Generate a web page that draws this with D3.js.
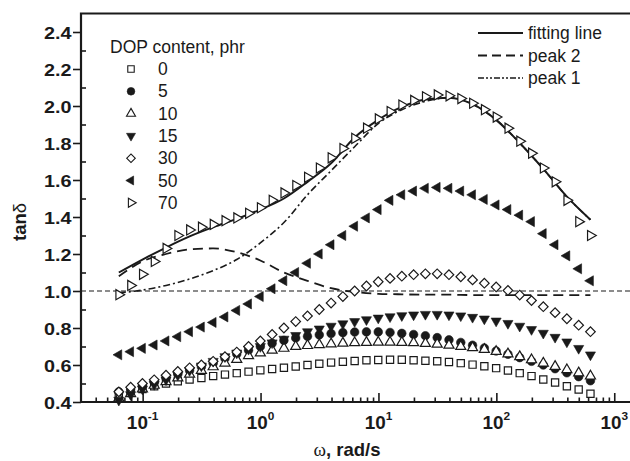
<!DOCTYPE html>
<html>
<head>
<meta charset="utf-8">
<script src="https://cdn.jsdelivr.net/npm/d3@7"></script>
<style>
  body { margin: 0; background: #fff; }
  svg { display: block; }
</style>
</head>
<body>
<div id="chart"></div>
<script>
// Angular frequency (rad/s) of every measured point
const omega = [0.0628, 0.0791, 0.0996, 0.1253, 0.1578, 0.1987, 0.2501, 0.3149, 0.3964, 0.4991,
    0.6283, 0.791, 0.9958, 1.2536, 1.5783, 1.9869, 2.5014, 3.1491, 3.9645, 4.991,
    6.2832, 7.91, 9.958, 12.54, 15.78, 19.87, 25.01, 31.49, 39.64, 49.91,
    62.83, 79.1, 99.58, 125.4, 157.8, 198.7, 250.1, 314.9, 396.4, 499.1, 628.3];

// tan(delta) for each DOP content (phr)
const tan0 = [0.43, 0.45, 0.47, 0.485, 0.5, 0.512, 0.522, 0.53, 0.54, 0.548,
    0.556, 0.564, 0.571, 0.578, 0.585, 0.592, 0.6, 0.607, 0.613, 0.618,
    0.622, 0.626, 0.627, 0.628, 0.628, 0.626, 0.623, 0.62, 0.616, 0.61,
    0.602, 0.593, 0.583, 0.57, 0.556, 0.54, 0.522, 0.505, 0.485, 0.468, 0.445];
const tan5 = [0.455, 0.47, 0.49, 0.51, 0.53, 0.55, 0.57, 0.59, 0.61, 0.635,
    0.66, 0.68, 0.7, 0.717, 0.733, 0.746, 0.755, 0.763, 0.77, 0.775,
    0.778, 0.779, 0.779, 0.776, 0.771, 0.765, 0.758, 0.748, 0.736, 0.722,
    0.707, 0.692, 0.676, 0.658, 0.64, 0.62, 0.6, 0.58, 0.558, 0.537, 0.515];
const tan10 = [0.42, 0.445, 0.47, 0.49, 0.51, 0.53, 0.55, 0.57, 0.59, 0.61,
    0.63, 0.65, 0.665, 0.68, 0.69, 0.7, 0.705, 0.71, 0.714, 0.718,
    0.72, 0.722, 0.723, 0.723, 0.722, 0.72, 0.716, 0.712, 0.707, 0.7,
    0.693, 0.684, 0.673, 0.66, 0.645, 0.628, 0.61, 0.592, 0.574, 0.557, 0.54];
const tan15 = [0.41, 0.44, 0.47, 0.495, 0.52, 0.545, 0.57, 0.595, 0.62, 0.645,
    0.665, 0.685, 0.7, 0.72, 0.74, 0.76, 0.78, 0.795, 0.81, 0.823,
    0.835, 0.845, 0.854, 0.861, 0.867, 0.871, 0.874, 0.874, 0.871, 0.866,
    0.858, 0.849, 0.838, 0.825, 0.81, 0.792, 0.772, 0.75, 0.725, 0.69, 0.655];
const tan30 = [0.455, 0.48, 0.5, 0.52, 0.545, 0.565, 0.585, 0.6, 0.62, 0.645,
    0.67, 0.7, 0.73, 0.765, 0.8, 0.835, 0.865, 0.9, 0.935, 0.97,
    1.0, 1.027, 1.05, 1.068, 1.08, 1.088, 1.093, 1.093, 1.088, 1.077,
    1.06, 1.042, 1.022, 1.003, 0.978, 0.948, 0.915, 0.883, 0.85, 0.815, 0.78];
const tan50 = [0.655, 0.672, 0.69, 0.708, 0.73, 0.753, 0.78, 0.805, 0.83, 0.86,
    0.895, 0.93, 0.97, 1.012, 1.056, 1.1, 1.15, 1.2, 1.25, 1.3,
    1.35, 1.395, 1.44, 1.49, 1.52, 1.54, 1.555, 1.56, 1.555, 1.54,
    1.52, 1.495, 1.465, 1.44, 1.41, 1.375, 1.31, 1.25, 1.19, 1.12, 1.055];
const tan70 = [0.98, 1.03, 1.09, 1.16, 1.23, 1.3, 1.33, 1.345, 1.36, 1.38,
    1.395, 1.42, 1.45, 1.49, 1.53, 1.57, 1.615, 1.665, 1.72, 1.77,
    1.825, 1.88, 1.93, 1.97, 2.005, 2.03, 2.05, 2.06, 2.055, 2.04,
    2.015, 1.98, 1.94, 1.88, 1.81, 1.745, 1.665, 1.59, 1.49, 1.375, 1.3];

// Fitted curves for the 70 phr sample
const curveOmega = [0.0628, 0.0996, 0.1578, 0.2501, 0.3964, 0.6283, 0.9958, 1.5783, 2.5014, 3.9645,
    6.2832, 9.958, 15.78, 25.01, 39.64, 62.83, 99.58, 157.8, 250.1, 396.4, 628.3];
const fitLine = [1.1, 1.17, 1.235, 1.295, 1.345, 1.39, 1.44, 1.5, 1.59, 1.69,
    1.83, 1.925, 1.995, 2.035, 2.045, 2.01, 1.925, 1.8, 1.66, 1.51, 1.385];
const peak1 = [0.99, 1.005, 1.03, 1.065, 1.11, 1.17, 1.26, 1.37, 1.52, 1.65,
    1.78, 1.905, 1.98, 2.025, 2.045, 2.01, 1.925, 1.8, 1.66, 1.51, 1.385];
const peak2 = [1.08, 1.16, 1.2, 1.225, 1.23, 1.21, 1.165, 1.1, 1.055, 1.015,
    0.995, 0.985, 0.982, 0.98, 0.98, 0.978, 0.978, 0.978, 0.978, 0.978, 0.978];

const contentLabels = ["0", "5", "10", "15", "30", "50", "70"];
const curveLabels = ["fitting line", "peak 2", "peak 1"];
const yTicks = [0.4, 0.6, 0.8, 1.0, 1.2, 1.4, 1.6, 1.8, 2.0, 2.2, 2.4];
const yMinorTicks = [0.5, 0.7, 0.9, 1.1, 1.3, 1.5, 1.7, 1.9, 2.1, 2.3];
const xTickExps = [-1, 0, 1, 2, 3];

/* Set up container */
const W = 630, H = 461;
const ink = "#1a1a1a";
const svg = d3.select("#chart").append("svg")
    .attr("width", W).attr("height", H)
    .attr("viewBox", `0 0 ${W} ${H}`);

const x = d3.scaleLog().domain([0.03, 1360]).range([81, 630]);
const y = d3.scaleLinear().domain([0.4, 2.5]).range([402, 13.5]);

const tickFont = "'Liberation Sans', Arial, sans-serif";

/* Reference line at tan(delta) = 1 */
svg.append("line")
    .attr("x1", x.range()[0]).attr("x2", x.range()[1])
    .attr("y1", y(1)).attr("y2", y(1))
    .attr("stroke", ink).attr("stroke-width", 1.2)
    .attr("stroke-dasharray", "5,3");

/* Fitted curves */
const line = d3.line()
    .x(d => x(d[0]))
    .y(d => y(d[1]))
    .curve(d3.curveMonotoneX);

const curveStyles = [
    { data: fitLine, dash: null, width: 2 },
    { data: peak2, dash: "10,6", width: 1.8 },
    { data: peak1, dash: "7,3,2,3", width: 1.6 }
];
curveStyles.forEach(c => {
    svg.append("path")
        .datum(curveOmega.map((w, i) => [w, c.data[i]]))
        .attr("d", line)
        .attr("fill", "none")
        .attr("stroke", ink)
        .attr("stroke-width", c.width)
        .attr("stroke-dasharray", c.dash);
});

/* Markers */
const markerStyles = [
    { type: d3.symbolSquare, size: 52, rot: 0, filled: false },
    { type: d3.symbolCircle, size: 58, rot: 0, filled: true },
    { type: d3.symbolTriangle, size: 44, rot: 0, filled: false },
    { type: d3.symbolTriangle, size: 44, rot: 180, filled: true },
    { type: d3.symbolSquare, size: 46, rot: 45, filled: false },
    { type: d3.symbolTriangle, size: 44, rot: -90, filled: true },
    { type: d3.symbolTriangle, size: 44, rot: 90, filled: false }
];
const allSeries = [tan0, tan5, tan10, tan15, tan30, tan50, tan70];

allSeries.forEach((s, i) => {
    let m = markerStyles[i];
    svg.append("g").selectAll("path")
        .data(omega.map((w, j) => [w, s[j]]))
        .enter()
        .append("path")
        .attr("d", d3.symbol().type(m.type).size(m.size))
        .attr("transform", d => `translate(${x(d[0])},${y(d[1])}) rotate(${m.rot})`)
        .attr("fill", m.filled ? ink : "#fff")
        .attr("stroke", ink)
        .attr("stroke-width", m.filled ? 0.6 : 1.2);
});

/* Axes */
// y: major ticks outward, minor ticks inward
const yAxisMajor = svg.append("g")
    .attr("transform", `translate(${x.range()[0]},0)`)
    .call(d3.axisLeft(y).tickValues(yTicks).tickSize(8).tickFormat(d3.format(".1f")));
yAxisMajor.selectAll("text")
    .attr("x", null).attr("dy", null)
    .attr("transform", "translate(-9.5,6) scale(1.2,1)")
    .attr("font-family", tickFont).attr("font-weight", "bold")
    .attr("font-size", "16.5px").attr("fill", ink);
svg.append("g")
    .attr("transform", `translate(${x.range()[0]},0)`)
    .call(d3.axisRight(y).tickValues(yMinorTicks).tickSize(5).tickFormat(""));

// x: all ticks point into the plot
const xMajor = xTickExps.map(e => Math.pow(10, e));
const xMinor = [];
[-2, -1, 0, 1, 2].forEach(e => {
    for (let k = 2; k <= 9; k++) {
        let v = k * Math.pow(10, e);
        if (v > x.domain()[0] && v < x.domain()[1]) xMinor.push(v);
    }
});
svg.append("g")
    .attr("transform", `translate(0,${y.range()[0]})`)
    .call(d3.axisBottom(x).tickValues(xMajor).tickSize(-9).tickFormat(""));
svg.append("g")
    .attr("transform", `translate(0,${y.range()[0]})`)
    .call(d3.axisBottom(x).tickValues(xMinor).tickSize(-4.5).tickFormat(""));

svg.selectAll(".domain").remove();
svg.selectAll(".tick line").attr("stroke", ink).attr("stroke-width", 1.6);

// x tick labels as 10 with a superscript exponent
xTickExps.forEach(e => {
    let t = svg.append("text")
        .attr("transform", `translate(${x(Math.pow(10, e))},428.5) scale(1.08,1)`)
        .attr("text-anchor", "middle")
        .attr("font-family", tickFont).attr("font-weight", "bold")
        .attr("fill", ink);
    t.append("tspan").attr("font-size", "17.5px").text("10");
    t.append("tspan").attr("font-size", "11px").attr("dy", -9).text(e);
});

// Frame lines
svg.append("path")
    .attr("d", `M${x.range()[1]},${y.range()[1]}H${x.range()[0]}V${y.range()[0]}H${x.range()[1]}`)
    .attr("fill", "none").attr("stroke", ink).attr("stroke-width", 2.2);

/* Axis titles */
const xTitle = svg.append("text")
    .attr("transform", "translate(347,456)")
    .attr("text-anchor", "middle")
    .attr("font-family", tickFont).attr("font-weight", "bold")
    .attr("font-size", "18.5px").attr("fill", ink);
xTitle.append("tspan").attr("font-family", "'Liberation Serif', serif")
    .attr("font-weight", "normal").attr("font-size", "19px").text("ω");
xTitle.append("tspan").text(", rad/s");

const yTitle = svg.append("text")
    .attr("transform", "translate(26,222) rotate(-90)")
    .attr("text-anchor", "middle")
    .attr("font-family", tickFont).attr("font-weight", "bold")
    .attr("font-size", "18.5px").attr("fill", ink);
yTitle.append("tspan").text("tan");
yTitle.append("tspan").attr("font-weight", "normal").text("δ");

/* Legend for samples */
const legendFont = "17.5px";
svg.append("text")
    .attr("x", 110).attr("y", 52.5)
    .attr("font-family", tickFont).attr("font-size", legendFont)
    .attr("fill", ink)
    .text("DOP content, phr");

const legend = svg.selectAll(".contentLegend")
    .data(contentLabels)
    .enter()
    .append("g")
    .attr("class", "contentLegend")
    .attr("transform", (d, i) => `translate(131,${69 + i * 22.3})`);

legend.append("path")
    .attr("d", (d, i) => d3.symbol().type(markerStyles[i].type).size(markerStyles[i].size * 0.8)())
    .attr("transform", (d, i) => `rotate(${markerStyles[i].rot})`)
    .attr("fill", (d, i) => markerStyles[i].filled ? ink : "#fff")
    .attr("stroke", ink)
    .attr("stroke-width", (d, i) => markerStyles[i].filled ? 0.6 : 1.1);

legend.append("text")
    .attr("x", 27).attr("y", 6)
    .attr("font-family", tickFont).attr("font-size", legendFont)
    .attr("fill", ink)
    .text(d => d);

/* Legend for curves */
const curveLegend = svg.selectAll(".curveLegend")
    .data(curveLabels)
    .enter()
    .append("g")
    .attr("class", "curveLegend")
    .attr("transform", (d, i) => `translate(478,${33 + i * 22.5})`);

curveLegend.append("line")
    .attr("x1", 0).attr("x2", 45)
    .attr("stroke", ink)
    .attr("stroke-width", (d, i) => curveStyles[i].width)
    .attr("stroke-dasharray", (d, i) => i === 1 ? "9,5" : (i === 2 ? "6,2,2,2,2,2" : null));

curveLegend.append("text")
    .attr("x", 50).attr("y", 6)
    .attr("font-family", tickFont).attr("font-size", legendFont)
    .attr("fill", ink)
    .text(d => d);
</script>
</body>
</html>
